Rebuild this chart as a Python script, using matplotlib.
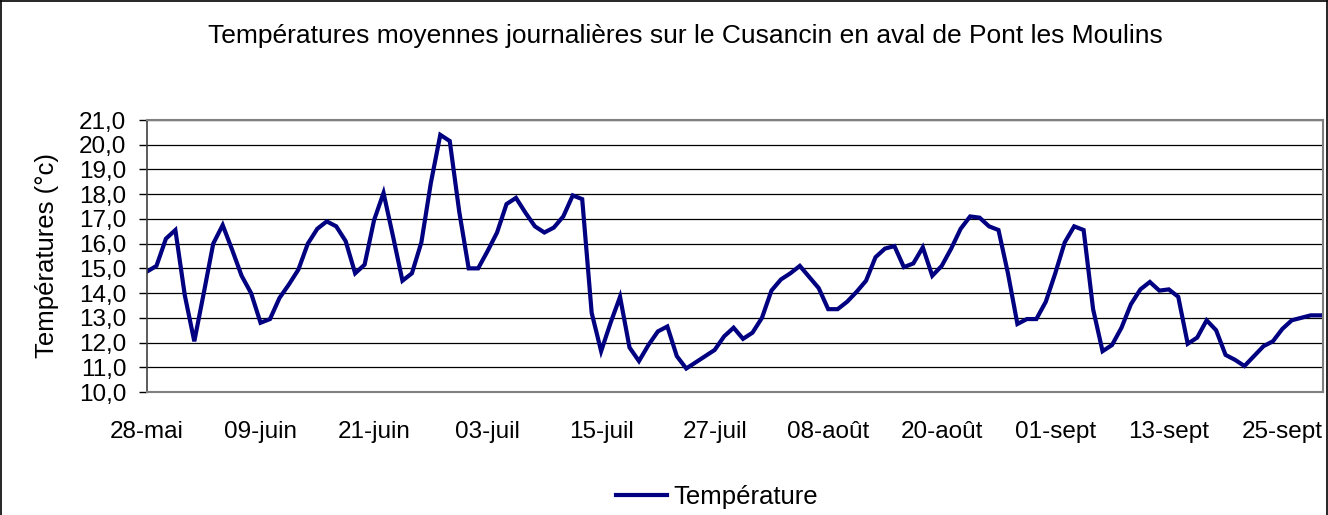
import numpy as np
import matplotlib
matplotlib.use("Agg")
import matplotlib.pyplot as plt
from matplotlib.lines import Line2D

plt.rcParams['font.family'] = ['Liberation Sans', 'DejaVu Sans']

# daily mean temperature, one value per day starting 28 May
temperatures = [
    14.87, 15.1, 16.2, 16.55, 13.9, 12.05, 14.0, 16.0, 16.75, 15.75,
    14.7, 14.0, 12.8, 12.95, 13.8, 14.35, 14.95, 16.0, 16.6, 16.9,
    16.7, 16.1, 14.8, 15.15, 16.95, 18.05, 16.3, 14.5, 14.8, 16.05,
    18.45, 20.4, 20.15, 17.3, 15.0, 15.0, 15.7, 16.45, 17.6, 17.85,
    17.25, 16.7, 16.45, 16.65, 17.1, 17.95, 17.8, 13.2, 11.65, 12.8,
    13.85, 11.8, 11.25, 11.9, 12.45, 12.65, 11.45, 10.95, 11.2, 11.45,
    11.7, 12.25, 12.6, 12.15, 12.4, 13.0, 14.1, 14.55, 14.8, 15.1,
    14.65, 14.2, 13.35, 13.35, 13.65, 14.05, 14.5, 15.45, 15.8, 15.9,
    15.05, 15.2, 15.85, 14.7, 15.1, 15.8, 16.6, 17.1, 17.05, 16.7,
    16.55, 14.8, 12.75, 12.95, 12.95, 13.65, 14.8, 16.05, 16.7, 16.55,
    13.35, 11.65, 11.9, 12.6, 13.55, 14.15, 14.45, 14.1, 14.15, 13.85,
    11.95, 12.2, 12.9, 12.5, 11.5, 11.3, 11.05, 11.45, 11.85, 12.05,
    12.55, 12.9, 13.0, 13.1, 13.1,
]
tick_labels = ["28-mai", "09-juin", "21-juin", "03-juil", "15-juil", "27-juil",
               "08-août", "20-août", "01-sept", "13-sept", "25-sept"]
y_ticks = list(range(10, 22))

days = np.arange(len(temperatures))

fig = plt.figure(figsize=(13.28, 5.15), dpi=100)
ax = fig.add_axes([147 / 1328, 123 / 515, 1176 / 1328, 272 / 515])

ax.plot(days, temperatures, color="#000080", linewidth=3.0,
        solid_joinstyle="miter", label="Température")

ax.set_xlim(0, len(temperatures) - 0.7)
ax.set_ylim(10, 21)
ax.set_yticks(y_ticks)
ax.set_yticklabels([f"{v},0" for v in y_ticks], fontsize=17.5)
ax.set_xticks(np.arange(len(tick_labels)) * 12)
ax.set_xticklabels(tick_labels, fontsize=17.5)
ax.tick_params(axis="x", length=0, pad=21)
ax.tick_params(axis="y", length=6, width=1, direction="out", pad=9)
ax.yaxis.grid(True, color="black", linewidth=0.9)
ax.set_axisbelow(True)
for side in ["top", "right", "bottom"]:
    ax.spines[side].set_color("#808080")
    ax.spines[side].set_linewidth(1.5)
ax.spines["left"].set_color("#404040")
ax.spines["left"].set_linewidth(1.2)

ax.set_ylabel("Températures (°c)", fontsize=18.5)
ax.yaxis.set_label_coords(-88 / 1176, 0.5)
fig.text(0.516, 0.93, "Températures moyennes journalières sur le Cusancin en aval de Pont les Moulins",
         ha="center", va="center", fontsize=19)

fig.legend(loc="center", bbox_to_anchor=(0.540, 0.035), frameon=False,
           fontsize=18.5, handlelength=2.0, handletextpad=0.25)

# outer chart frame (bottom edge is cut off in the original)
for xs, ys in [([0.001, 0.001], [0, 0.998]), ([0.001, 0.999], [0.998, 0.998]),
               ([0.999, 0.999], [0, 0.998])]:
    fig.lines.append(Line2D(xs, ys, transform=fig.transFigure, color="black", linewidth=1.2))

fig.savefig("out.png", dpi=100)
